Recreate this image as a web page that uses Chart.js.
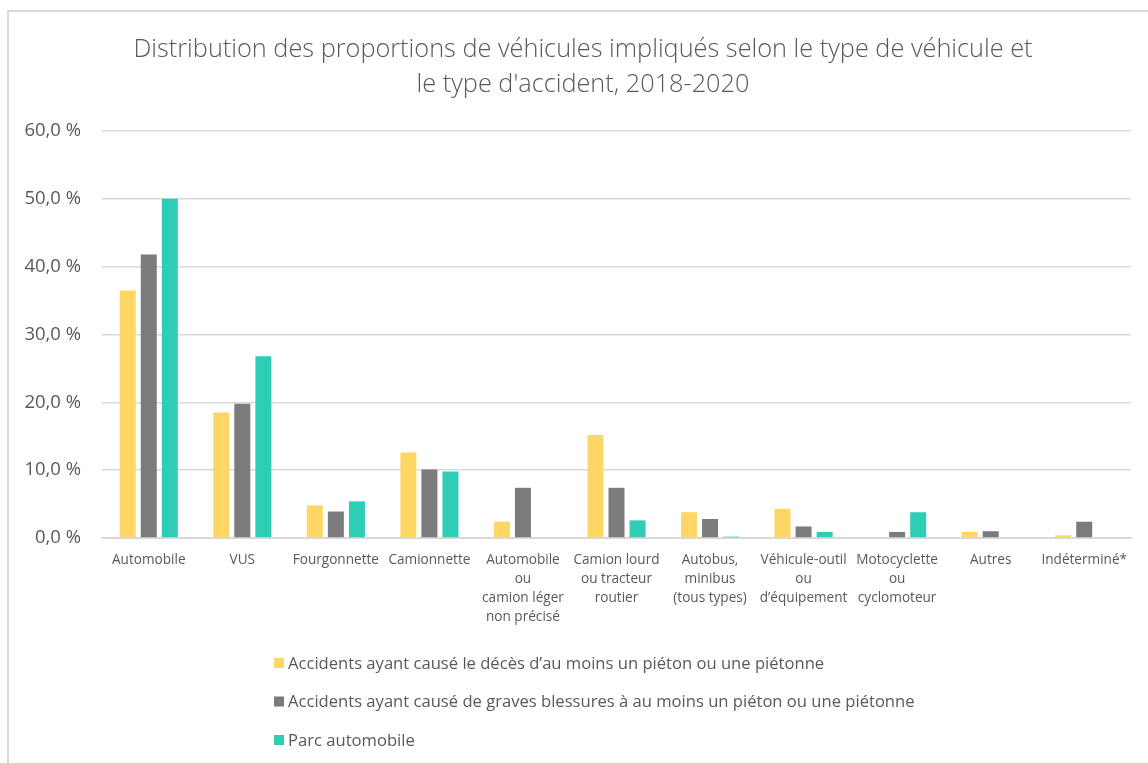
<!DOCTYPE html>
<html lang="fr">
<head>
<meta charset="UTF-8">
<title>Distribution des proportions de véhicules impliqués</title>
<script src="https://cdn.jsdelivr.net/npm/chart.js"></script>
<style>
    html, body {
        margin: 0;
        padding: 0;
        background: #fff;
        overflow: hidden;
    }
    #frame {
        position: absolute;
        left: 7px;
        top: 10px;
        width: 1300px;
        height: 900px;
        border-left: 2px solid #d9d9d9;
        border-top: 2px solid #d9d9d9;
    }
    #wrap {
        position: absolute;
        left: 0;
        top: 0;
        width: 1148px;
        height: 763px;
    }
</style>
</head>
<body>
<div id="frame"></div>
<div id="wrap"><canvas id="chart"></canvas></div>
<script>
// categories (multi-line labels as in the original)
const categories = [
    'Automobile',
    'VUS',
    'Fourgonnette',
    'Camionnette',
    ['Automobile', 'ou', 'camion léger', 'non précisé'],
    ['Camion lourd', 'ou tracteur', 'routier'],
    ['Autobus,', 'minibus', '(tous types)'],
    ['Véhicule-outil', 'ou', 'd’équipement'],
    ['Motocyclette', 'ou', 'cyclomoteur'],
    'Autres',
    'Indéterminé*'
];

// values in %
const deces = [36.5, 18.5, 4.8, 12.6, 2.4, 15.2, 3.8, 4.3, 0, 0.9, 0.4];
const blessures = [41.8, 19.8, 3.9, 10.1, 7.4, 7.4, 2.8, 1.7, 0.9, 1.0, 2.4];
const parc = [50.0, 26.8, 5.4, 9.8, 0, 2.6, 0.2, 0.9, 3.8, 0, 0];

const seriesNames = [
    'Accidents ayant causé le décès d’au moins un piéton ou une piétonne',
    'Accidents ayant causé de graves blessures à au moins un piéton ou une piétonne',
    'Parc automobile'
];
const seriesColors = ['#fdd663', '#7b7b7b', '#2ecdb5'];

const titleLines = [
    'Distribution des proportions de véhicules impliqués selon le type de véhicule et',
    'le type d\'accident, 2018-2020'
];

const FONT = "'Open Sans', Lato, sans-serif";

// title is centred on the frame, not on the canvas, so draw it ourselves
const frameTitle = {
    id: 'frameTitle',
    afterDraw(chart) {
        const ctx = chart.ctx;
        ctx.save();
        ctx.font = '300 25.3px ' + FONT;
        ctx.fillStyle = '#595959';
        ctx.textAlign = 'center';
        ctx.textBaseline = 'middle';
        titleLines.forEach((line, i) => ctx.fillText(line, 583, 50 + i * 34.5));
        ctx.restore();
    }
};

// simple stacked legend drawn under the plot, like the original
const stackedLegend = {
    id: 'stackedLegend',
    afterDraw(chart) {
        const ctx = chart.ctx;
        ctx.save();
        ctx.font = '16.6px ' + FONT;
        ctx.textBaseline = 'middle';
        chart.data.datasets.forEach((ds, i) => {
            const y = 663 + i * 38.5;
            ctx.fillStyle = ds.backgroundColor;
            ctx.fillRect(274, y - 5, 10, 10);
            ctx.fillStyle = '#595959';
            ctx.fillText(ds.label, 288, y + 1);
        });
        ctx.restore();
    }
};

new Chart(document.getElementById('chart'), {
    type: 'bar',
    data: {
        labels: categories,
        datasets: [
            { label: seriesNames[0], data: deces, backgroundColor: seriesColors[0] },
            { label: seriesNames[1], data: blessures, backgroundColor: seriesColors[1] },
            { label: seriesNames[2], data: parc, backgroundColor: seriesColors[2] }
        ]
    },
    options: {
        responsive: true,
        maintainAspectRatio: false,
        animation: false,
        layout: { padding: { top: 131, left: 0, right: 17, bottom: 125 } },
        datasets: {
            bar: { categoryPercentage: 0.675, barPercentage: 0.76 }
        },
        plugins: {
            legend: { display: false },
            tooltip: { enabled: false },
            title: { display: false }
        },
        scales: {
            x: {
                grid: { display: false },
                border: { color: '#d9d9d9', width: 2 },
                ticks: {
                    color: '#595959',
                    font: { family: FONT, size: 13.6, lineHeight: 1.39 },
                    maxRotation: 0,
                    autoSkip: false,
                    padding: 5
                },
                afterFit(scale) { scale.height = 100; }
            },
            y: {
                min: 0,
                max: 60,
                ticks: {
                    stepSize: 10,
                    color: '#595959',
                    font: { family: FONT, size: 18.5 },
                    padding: 21,
                    callback: v => v.toFixed(1).replace('.', ',') + ' %'
                },
                grid: { color: '#d9d9d9', lineWidth: 1.5, drawTicks: false },
                border: { display: false },
                afterFit(scale) { scale.width = 102; }
            }
        }
    },
    plugins: [frameTitle, stackedLegend]
});
</script>
</body>
</html>
